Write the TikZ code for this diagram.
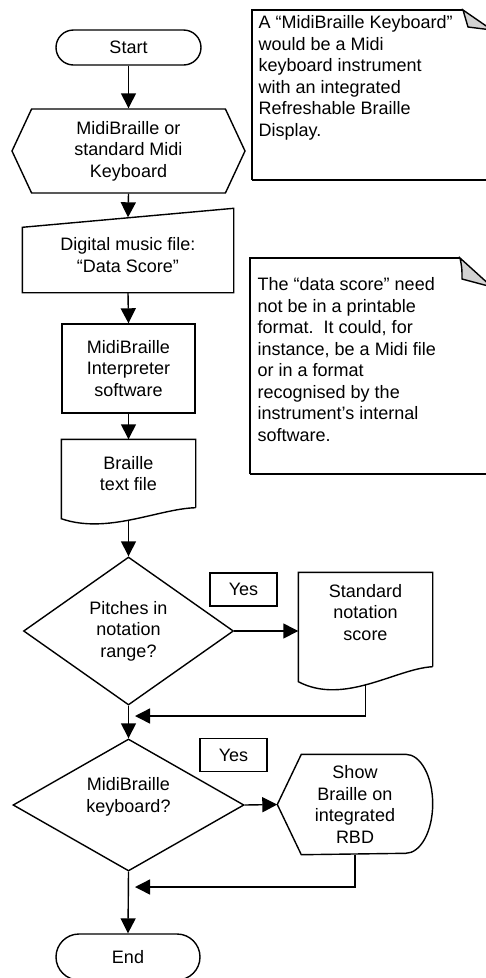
\documentclass[tikz,border=0pt]{standalone}
\usepackage{fontspec}
\setmainfont{Liberation Sans}
\usetikzlibrary{arrows.meta,calc,shapes.geometric,shapes.symbols}

\begin{document}
\begin{tikzpicture}[x=1pt,y=-1pt,line width=1.4pt,
    font=\fontsize{18}{21.5}\selectfont,
    arr/.style={-{Triangle[length=15pt,width=15pt]}},
    term/.style={draw,rectangle,align=center},
    prepbox/.style={draw,signal,signal to=west and east,signal pointer angle=130,
        minimum width=233pt,minimum height=84pt,inner sep=0pt,align=center},
    procbox/.style={draw,rectangle,align=center,minimum width=133pt},
    shapebox/.style={rectangle,align=center,inner sep=0pt},
    decision/.style={draw,diamond,aspect=1.5,inner sep=0pt,align=center},
    yesbox/.style={draw,rectangle,minimum width=67pt,minimum height=33pt},
    notetext/.style={anchor=north west,align=left,inner sep=0pt}]
\useasboundingbox (0,0) rectangle (486,978);

% flow
\node[term,rounded corners=17.5pt,minimum width=145pt,minimum height=35pt] (start) at (128.5,47.5) {Start};
\node[prepbox] (prep) at (128.5,151) {MidiBraille or\\standard Midi\\Keyboard};
\node[shapebox,minimum width=210pt,minimum height=74pt] (input) at (128,255) {Digital music file:\\“Data Score”};
\node[procbox,minimum height=89pt] (interp) at (128.5,368.5) {MidiBraille\\Interpreter\\software};
\node[shapebox,minimum width=133pt,minimum height=67pt] (braille) at (128.5,473.5) {Braille\\text file};
\node[decision,minimum width=210pt,minimum height=148pt] (d1) at (128.5,631) {Pitches in\\notation\\range?};
\node[yesbox] (yes1) at (243.5,589.5) {Yes};
\node[shapebox,minimum width=133pt,minimum height=93pt,text depth=15pt] (std) at (365.5,619.5) {Standard\\notation\\score};
\node[decision,minimum width=231pt,minimum height=132pt,text depth=20pt] (d2) at (128.5,805) {MidiBraille\\keyboard?};
\node[yesbox] (yes2) at (233.5,755) {Yes};
\node[shapebox,minimum width=154pt,minimum height=99pt] (disp) at (355,804.5) {Show\\Braille on\\integrated\\RBD};
\node[term,rounded corners=23pt,minimum width=144pt,minimum height=46pt] (end) at (128,957) {End};

% outlines of the odd shapes
\draw ($(input.north west)+(0,10)$) -- ($(input.north east)+(0,-9)$) -- (input.south east) -- (input.south west) -- cycle;
\draw (braille.south east) -- (braille.north east) -- (braille.north west) -- ($(braille.south west)+(0,11)$)
    .. controls ($(braille.south west)+(46,27)$) and ($(braille.south east)+(-37,1)$) .. (braille.south east);
\draw (std.south east) -- (std.north east) -- (std.north west) -- ($(std.south west)+(0,15)$)
    .. controls ($(std.south west)+(46,39)$) and ($(std.south east)+(-37,2)$) .. (std.south east);
\draw (disp.west) -- ($(disp.north west)+(24,0)$) -- ($(disp.north east)+(-27,0)$)
    arc[start angle=90,end angle=-90,x radius=27pt,y radius=49.5pt] -- ($(disp.south west)+(24,0)$) -- cycle;

% connectors
\coordinate (j1) at (135,716);
\coordinate (j2) at (135,887);
\draw[arr] (start.south) -- (prep.north);
\draw[arr] (prep.south) -- (input.north);
\draw[arr] (input.south) -- (interp.north);
\draw[arr] (interp.south) -- (braille.north);
\draw[arr] ($(braille.south)+(0,12)$) -- (d1.north);
\draw[arr] (d1.south) -- (d2.north);
\draw[arr] (d2.south) -- (end.north);
\draw[arr] (d1.east) -- (d1.east -| std.west);
\draw[arr] (d2.east) -- (disp.west);
\draw[arr] ($(std.south)+(0,17)$) |- (j1);
\draw[arr] (disp.south) |- (j2);

% notes
\draw (252,180) -- (252,10) -- (463,10);
\draw (252,180) -- (492,180);
\draw[fill=gray!35] (463,10) -- (492,30) -- (468,27) .. controls (466,18) .. cycle;
\node[notetext] (note1) at (258,15) {A “MidiBraille Keyboard”\\would be a Midi\\keyboard instrument\\with an integrated\\Refreshable Braille\\Display.};
\draw (250,474) -- (250,258) -- (460,258);
\draw (250,474) -- (492,474);
\draw[fill=gray!35] (460,258) -- (492,287) -- (462,279) .. controls (462,268) .. cycle;
\node[notetext] (note2) at (257,277) {The “data score” need\\not be in a printable\\format.\ \ It could, for\\instance, be a Midi file\\or in a format\\recognised by the\\instrument’s internal\\software.};
\end{tikzpicture}
\end{document}
